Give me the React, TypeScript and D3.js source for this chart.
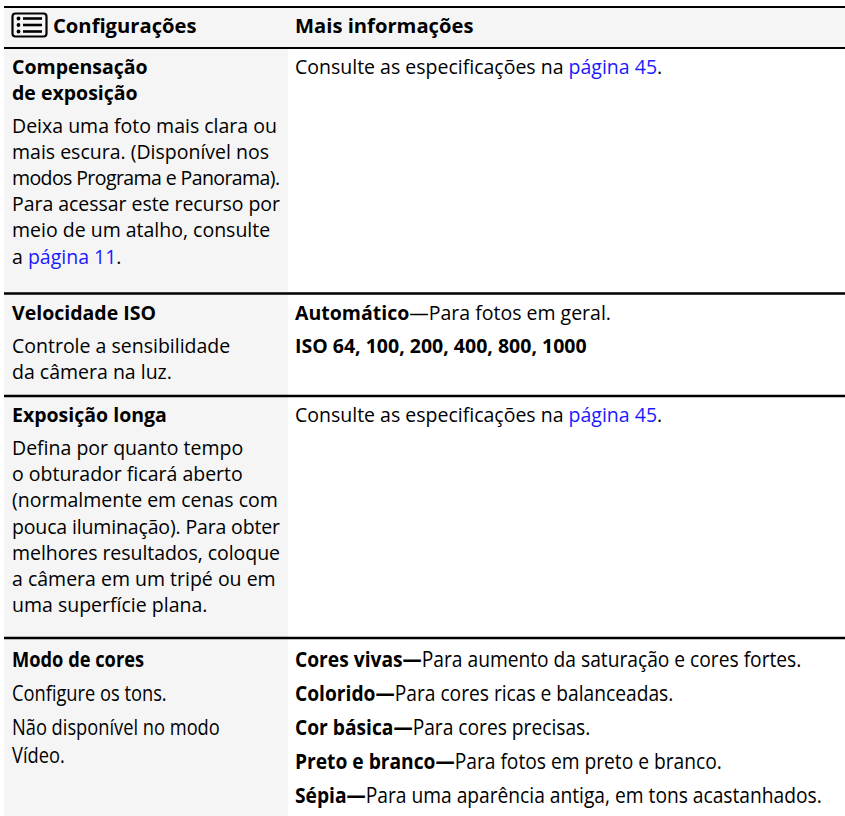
import React, { useRef, useEffect } from 'react';
import * as d3 from 'd3';

// column headings
const headerLabels = ['Configurações', 'Mais informações'];

// setting names (left column, bold), one entry per row
const settingNames: string[][] = [
    ['Compensação', 'de exposição'],
    ['Velocidade ISO'],
    ['Exposição longa'],
    ['Modo de cores'],
];

// descriptions under the names: paragraphs -> lines
const settingNotes: string[][][] = [
    [['Deixa uma foto mais clara ou', 'mais escura. (Disponível nos', 'modos Programa e Panorama).', 'Para acessar este recurso por', 'meio de um atalho, consulte', 'a [página 11].']],
    [['Controle a sensibilidade', 'da câmera na luz.']],
    [['Defina por quanto tempo', 'o obturador ficará aberto', '(normalmente em cenas com', 'pouca iluminação). Para obter', 'melhores resultados, coloque', 'a câmera em um tripé ou em', 'uma superfície plana.']],
    [['Configure os tons.'], ['Não disponível no modo', 'Vídeo.']],
];

// right column: **bold**, [link]
const moreInfo: string[][][] = [
    [['Consulte as especificações na [página 45].']],
    [['**Automático**—Para fotos em geral.'], ['**ISO 64, 100, 200, 400, 800, 1000**']],
    [['Consulte as especificações na [página 45].']],
    [
        ['**Cores vivas—**Para aumento da saturação e cores fortes.'],
        ['**Colorido—**Para cores ricas e balanceadas.'],
        ['**Cor básica—**Para cores precisas.'],
        ['**Preto e branco—**Para fotos em preto e branco.'],
        ['**Sépia—**Para uma aparência antiga, em tons acastanhados.'],
    ],
];

// last row is set in a condensed face in the original
const condensedRows = [false, false, false, true];

const width = 845;
const height = 816;

function parseLine(s: string) {
    return s.split(/(\*\*[^*]+\*\*|\[[^\]]+\])/).filter(p => p.length > 0).map(p => {
        if (p.startsWith('**')) return { text: p.slice(2, -2), kind: 'bold' };
        if (p.startsWith('[')) return { text: p.slice(1, -1), kind: 'link' };
        return { text: p, kind: 'plain' };
    });
}

export default function App() {
    const svgRef = useRef<SVGSVGElement>(null);

    useEffect(() => {
        if (!svgRef.current) return;
        const svg = d3.select(svgRef.current);
        svg.selectAll('*').remove();

        const leftX = 12;
        const rightX = 295;
        const colSplit = 288;
        const fontSize = 19.5;
        const titleStep = 25.5;
        const leftMaxW = 268;

        // row rules: header top, header bottom, then between rows
        const rules = [7, 48, 293.5, 396, 638];
        const rowTops = rules.slice(1);

        // backgrounds
        svg.append('rect').attr('x', 4).attr('y', 8).attr('width', width - 4).attr('height', 40).attr('fill', '#f5f5f5');
        svg.append('rect').attr('x', 4).attr('y', 48).attr('width', colSplit - 4).attr('height', height - 48).attr('fill', '#f5f5f5');

        svg.selectAll('line.rule')
            .data(rules)
            .enter()
            .append('line')
            .attr('class', 'rule')
            .attr('x1', 4).attr('x2', width)
            .attr('y1', d => d).attr('y2', d => d)
            .attr('stroke', '#000')
            .attr('stroke-width', (d, i) => (i < 2 ? 2 : 2.5));

        // menu icon
        const icon = svg.append('g');
        icon.append('rect').attr('x', 12.5).attr('y', 13.5).attr('width', 34).attr('height', 23).attr('rx', 3)
            .attr('fill', 'none').attr('stroke', '#000').attr('stroke-width', 2.2);
        [18.5, 25, 31.5].forEach(y => {
            icon.append('circle').attr('cx', 18.5).attr('cy', y).attr('r', 1.9).attr('fill', '#000');
            icon.append('line').attr('x1', 23).attr('x2', 42).attr('y1', y).attr('y2', y).attr('stroke', '#000').attr('stroke-width', 2.6);
        });

        const font = '"Open Sans", "Noto Sans", sans-serif';

        const drawLine = (g: d3.Selection<SVGGElement, unknown, null, undefined>, x: number, y: number, s: string,
                          bold: boolean, size: number, sx: number, maxW?: number) => {
            const t = g.append('text')
                .attr('x', 0).attr('y', 0)
                .attr('transform', `translate(${x},${y}) scale(${sx},1)`)
                .attr('font-family', font)
                .attr('font-size', size)
                .attr('fill', '#000');
            parseLine(s).forEach(seg => {
                t.append('tspan')
                    .text(seg.text)
                    .attr('font-weight', bold || seg.kind === 'bold' ? 700 : 400)
                    .attr('fill', seg.kind === 'link' ? '#1a1aff' : '#000');
            });
            // tighten word spacing on lines that would spill out of the column
            if (maxW) {
                const w = (t.node() as SVGTextElement).getComputedTextLength() * sx;
                if (w > maxW) t.attr('textLength', maxW / sx).attr('lengthAdjust', 'spacing');
            }
        };

        const textG = svg.append('g');

        // header
        drawLine(textG, 53, 33, headerLabels[0], true, 20.2, 1);
        drawLine(textG, rightX, 33, headerLabels[1], true, 20.2, 1);

        rowTops.forEach((top, r) => {
            const cond = condensedRows[r];
            const size = cond ? 21 : fontSize;
            const sxL = cond ? 0.87 : 1;
            const sxR = cond ? 0.915 : 1;
            const firstOff = cond ? 29 : 26;
            const paraStep = cond ? 34 : 33;
            const lineStep = cond ? 28 : 26.2;
            let y = top + firstOff;
            // left: name + notes
            settingNames[r].forEach((nm, i) => {
                drawLine(textG, leftX, y + i * titleStep, nm, true, size, sxL);
            });
            y += (settingNames[r].length - 1) * titleStep;
            settingNotes[r].forEach(par => {
                y += paraStep;
                par.forEach((ln, i) => drawLine(textG, leftX, y + i * lineStep, ln, false, size, sxL, leftMaxW));
                y += (par.length - 1) * lineStep;
            });
            // right: more info
            let yr = top + firstOff - paraStep;
            moreInfo[r].forEach(par => {
                yr += paraStep;
                par.forEach((ln, i) => drawLine(textG, rightX, yr + i * lineStep, ln, false, size, sxR));
                yr += (par.length - 1) * lineStep;
            });
        });
    }, []);

    return <svg ref={svgRef} width={width} height={height} style={{ position: 'absolute', left: 0, top: 0, background: '#fff' }} />;
}
